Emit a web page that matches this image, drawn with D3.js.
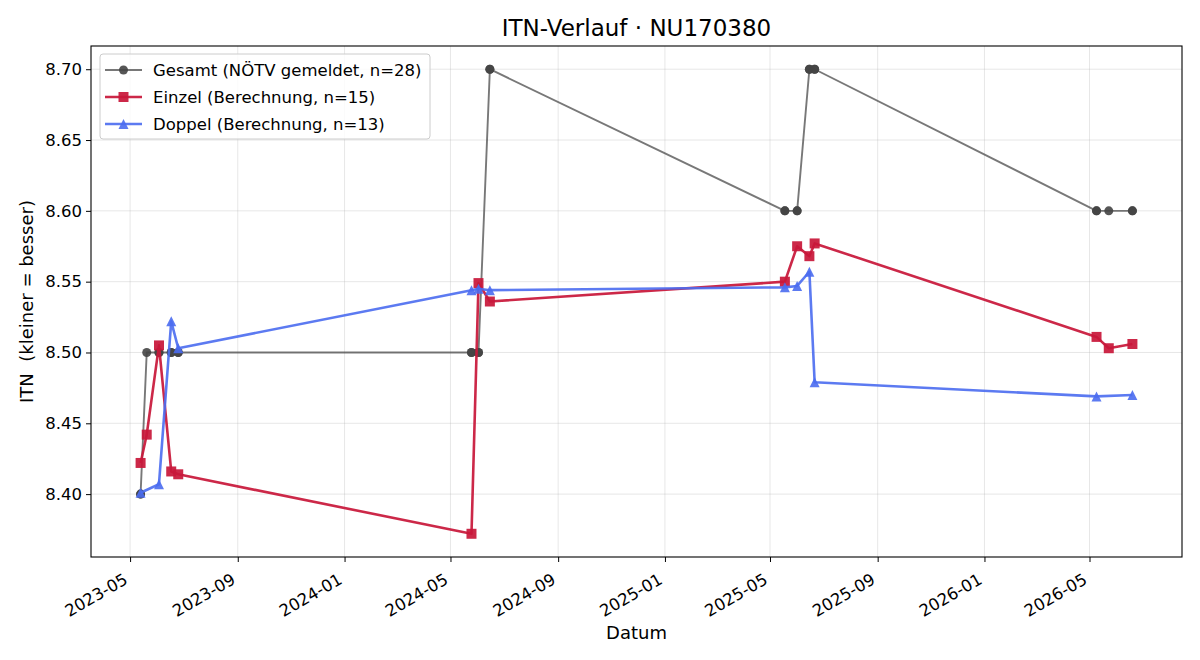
<!DOCTYPE html>
<html>
<head>
  <title>ITN-Verlauf</title>
  <script src="https://d3js.org/d3.v7.min.js"></script>
  <style>
    body { margin: 0; background: #fff; }
    text { font-family: "DejaVu Sans", sans-serif; fill: #000; }
  </style>
</head>
<body>
<svg id="chart" width="1200" height="660"></svg>
<script>
// data
const gesamtDates = ["2023-05-13","2023-05-13","2023-05-20","2023-06-03","2023-06-03","2023-06-17","2023-06-17","2023-06-25","2023-06-25",
  "2024-05-25","2024-05-25","2024-06-02","2024-06-02","2024-06-15","2024-06-15",
  "2025-05-18","2025-05-18","2025-06-01","2025-06-01","2025-06-15","2025-06-15","2025-06-21","2025-06-21",
  "2026-05-09","2026-05-09","2026-05-23","2026-06-19","2026-06-19"];
const gesamtValues = [8.40,8.40,8.50,8.50,8.50,8.50,8.50,8.50,8.50,
  8.50,8.50,8.50,8.50,8.70,8.70,
  8.60,8.60,8.60,8.60,8.70,8.70,8.70,8.70,
  8.60,8.60,8.60,8.60,8.60];

const einzelDates = ["2023-05-13","2023-05-20","2023-06-03","2023-06-17","2023-06-25",
  "2024-05-25","2024-06-02","2024-06-15",
  "2025-05-18","2025-06-01","2025-06-15","2025-06-21",
  "2026-05-09","2026-05-23","2026-06-19"];
const einzelValues = [8.422,8.442,8.505,8.416,8.414,
  8.372,8.549,8.536,
  8.550,8.575,8.568,8.577,
  8.511,8.503,8.506];

const doppelDates = ["2023-05-13","2023-06-03","2023-06-17","2023-06-25",
  "2024-05-25","2024-06-02","2024-06-15",
  "2025-05-18","2025-06-01","2025-06-15","2025-06-21",
  "2026-05-09","2026-06-19"];
const doppelValues = [8.401,8.407,8.522,8.503,
  8.544,8.545,8.544,
  8.546,8.547,8.557,8.479,
  8.469,8.470];

const yTicks = [8.40,8.45,8.50,8.55,8.60,8.65,8.70];

const parse = d3.timeParse("%Y-%m-%d");
function zip(dates, values) {
  return dates.map((d, i) => ({date: parse(d), value: values[i]}));
}

const series = [
  {label: "Gesamt (NÖTV gemeldet, n=28)", data: zip(gesamtDates, gesamtValues),
   line: "#444", lineOpacity: 0.72, lineWidth: 1.9, fill: "#444", markerOpacity: 0.9, marker: "circle", size: 9},
  {label: "Einzel (Berechnung, n=15)", data: zip(einzelDates, einzelValues),
   line: "#c8183a", lineOpacity: 0.93, lineWidth: 2.6, fill: "#c8183a", markerOpacity: 0.93, marker: "square", size: 10},
  {label: "Doppel (Berechnung, n=13)", data: zip(doppelDates, doppelValues),
   line: "#4a6cf0", lineOpacity: 0.9, lineWidth: 2.6, fill: "#4a6cf0", markerOpacity: 0.9, marker: "triangle", size: 10}
];

const svg = d3.select("#chart");
const mLeft = 91, mRight = 1182, mTop = 46, mBottom = 557;
const tickFont = "16.5px", labelFont = "18px";

const allDates = series.flatMap(s => s.data.map(d => d.date));
const allValues = series.flatMap(s => s.data.map(d => d.value));
const [x0, x1] = d3.extent(allDates);
const xpad = (x1 - x0) * 0.05;
const [y0, y1] = d3.extent(allValues);
const ypad = (y1 - y0) * 0.05;

const x = d3.scaleTime()
  .domain([new Date(+x0 - xpad), new Date(+x1 + xpad)])
  .range([mLeft, mRight]);
const y = d3.scaleLinear()
  .domain([y0 - ypad, y1 + ypad])
  .range([mBottom, mTop]);

const xTicks = d3.timeMonth.range(d3.timeMonth.ceil(x.domain()[0]), x.domain()[1])
  .filter(d => (d.getMonth() % 4) === 0);

// grid
const grid = svg.append("g");
grid.selectAll(".gx").data(xTicks).enter().append("line")
  .attr("x1", d => x(d)).attr("x2", d => x(d))
  .attr("y1", mTop).attr("y2", mBottom)
  .attr("stroke", "#b0b0b0").attr("stroke-opacity", 0.3).attr("stroke-width", 1);
grid.selectAll(".gy").data(yTicks).enter().append("line")
  .attr("x1", mLeft).attr("x2", mRight)
  .attr("y1", d => y(d)).attr("y2", d => y(d))
  .attr("stroke", "#b0b0b0").attr("stroke-opacity", 0.3).attr("stroke-width", 1);

// axes
const xAxis = svg.append("g")
  .attr("transform", `translate(0,${mBottom})`)
  .call(d3.axisBottom(x).tickValues(xTicks).tickFormat(d3.timeFormat("%Y-%m")).tickSizeInner(5).tickSizeOuter(0));
xAxis.selectAll("text")
  .attr("font-size", tickFont)
  .attr("text-anchor", "end")
  .attr("y", 0)
  .attr("dy", "0.76em")
  .attr("transform", "translate(-8,15) rotate(-30)");

const yAxis = svg.append("g")
  .attr("transform", `translate(${mLeft},0)`)
  .call(d3.axisLeft(y).tickValues(yTicks).tickFormat(d3.format(".2f")).tickSizeInner(5).tickSizeOuter(0).tickPadding(4));
yAxis.selectAll("text").attr("font-size", tickFont);

[xAxis, yAxis].forEach(a => {
  a.select(".domain").remove();
  a.selectAll("line").attr("stroke", "#000").attr("stroke-width", 1);
  a.attr("font-family", null);
});

// lines and markers
function markerPath(type, s) {
  const h = s / 2;
  if (type === "square") return `M${-h},${-h}H${h}V${h}H${-h}Z`;
  if (type === "triangle") return `M0,${-h}L${h},${h}L${-h},${h}Z`;
  return d3.symbol(d3.symbolCircle, Math.PI * h * h)();
}

const line = d3.line().x(d => x(d.date)).y(d => y(d.value));
const plot = svg.append("g");
series.forEach(s => {
  plot.append("path")
    .datum(s.data)
    .attr("d", line)
    .attr("fill", "none")
    .attr("stroke", s.line)
    .attr("stroke-opacity", s.lineOpacity)
    .attr("stroke-width", s.lineWidth)
    .attr("stroke-linejoin", "round");
  plot.selectAll(null)
    .data(s.data)
    .enter().append("path")
    .attr("d", markerPath(s.marker, s.size))
    .attr("transform", d => `translate(${x(d.date)},${y(d.value)})`)
    .attr("fill", s.fill)
    .attr("fill-opacity", s.markerOpacity);
});

// frame
svg.append("rect")
  .attr("x", mLeft).attr("y", mTop)
  .attr("width", mRight - mLeft).attr("height", mBottom - mTop)
  .attr("fill", "none").attr("stroke", "#000").attr("stroke-width", 1.1);

// legend
const legend = svg.append("g").attr("transform", "translate(100,54)");
legend.append("rect")
  .attr("width", 330).attr("height", 85).attr("rx", 3)
  .attr("fill", "#fff").attr("fill-opacity", 0.8)
  .attr("stroke", "#ccc");
series.forEach((s, i) => {
  const row = legend.append("g").attr("transform", `translate(0,${16 + i * 27})`);
  row.append("line")
    .attr("x1", 5).attr("x2", 42)
    .attr("stroke", s.line).attr("stroke-opacity", s.lineOpacity).attr("stroke-width", s.lineWidth);
  row.append("path")
    .attr("d", markerPath(s.marker, s.size))
    .attr("transform", "translate(23.5,0)")
    .attr("fill", s.fill).attr("fill-opacity", s.markerOpacity);
  row.append("text")
    .attr("x", 53).attr("dy", "0.36em")
    .attr("font-size", tickFont)
    .text(s.label);
});

// titles
svg.append("text")
  .attr("x", (mLeft + mRight) / 2).attr("y", 36)
  .attr("text-anchor", "middle")
  .attr("font-size", "23px")
  .text("ITN-Verlauf · NU170380");
svg.append("text")
  .attr("x", (mLeft + mRight) / 2).attr("y", 639)
  .attr("text-anchor", "middle")
  .attr("font-size", labelFont)
  .text("Datum");
svg.append("text")
  .attr("transform", `translate(33,${(mTop + mBottom) / 2}) rotate(-90)`)
  .attr("text-anchor", "middle")
  .attr("font-size", labelFont)
  .style("white-space", "pre")
  .text("ITN  (kleiner = besser)");
</script>
</body>
</html>
